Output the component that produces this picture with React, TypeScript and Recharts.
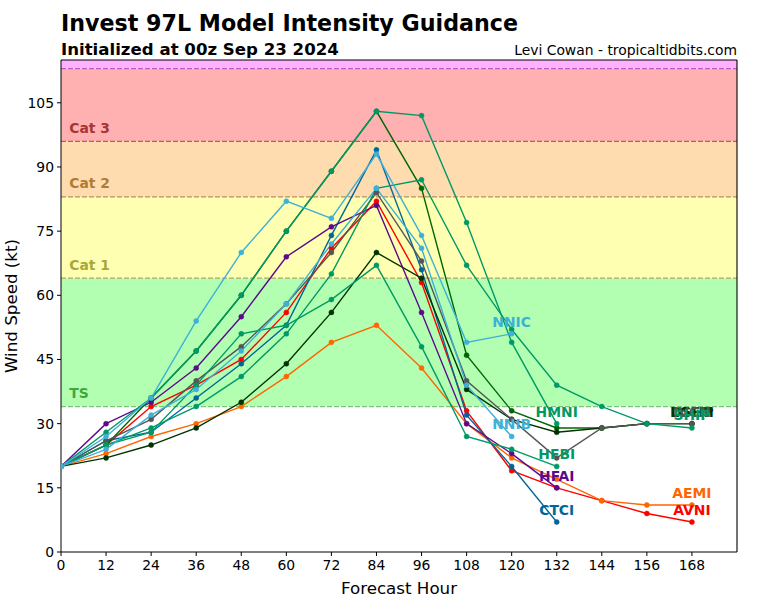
import React from "react";
import {
  ComposedChart,
  Line,
  XAxis,
  YAxis,
  ReferenceArea,
  ReferenceLine,
  ReferenceDot,
} from "recharts";

const FONT = "'DejaVu Sans', sans-serif";

const hourTicks = [0, 12, 24, 36, 48, 60, 72, 84, 96, 108, 120, 132, 144, 156, 168];
const windTicks = [0, 15, 30, 45, 60, 75, 90, 105];

// intensity per 12 h step, starting at hour 0
const avni = [20, 25, 34, 39, 45, 56, 71, 82, 63, 33, 19, 15, 12, 9, 7];
const aemi = [20, 23, 27, 30, 34, 41, 49, 53, 43, 30, 22, 17, 12, 11, 11];
const ctci = [20, 26, 28, 36, 44, 53, 74, 94, 66, 32, 20, 7];
const hfai = [20, 30, 35, 43, 55, 69, 76, 81, 56, 30, 23, 15];
const dshp = [20, 25, 36, 47, 60, 75, 89, 103, 85, 46, 33, 29, 29, 30, 30];
const lgem = [20, 22, 25, 29, 35, 44, 56, 70, 64, 38, 31, 28, 29, 30, 30];
const ivcn = [20, 26, 31, 40, 48, 58, 70, 84, 68, 40, 31, 22, 29, 30, 30];
const ship = [20, 25, 29, 34, 41, 51, 65, 85, 87, 67, 52, 39, 34, 30, 29];
const hfbi = [20, 25, 28, 39, 51, 53, 59, 67, 48, 27, 24, 20];
const nnib = [20, 24, 32, 38, 47, 58, 72, 85, 71, 39, 27];
const nnic = [20, 27, 36, 54, 70, 82, 78, 93, 74, 49, 51];
const hmni = [20, 28, 36, 47, 60, 75, 89, 103, 102, 77, 49, 30];

const series: [string, number[], string][] = [
  ["AVNI", avni, "#ff0000"],
  ["AEMI", aemi, "#ff6600"],
  ["CTCI", ctci, "#006699"],
  ["HFAI", hfai, "#5b0a8c"],
  ["DSHP", dshp, "#006600"],
  ["LGEM", lgem, "#003300"],
  ["IVCN", ivcn, "#555555"],
  ["SHIP", ship, "#009966"],
  ["HFBI", hfbi, "#009966"],
  ["HMNI", hmni, "#009966"],
  ["NNIB", nnib, "#3fb0d8"],
  ["NNIC", nnic, "#3fb0d8"],
];

// category bands: low, high, fill
const bands: [number, number, string][] = [
  [34, 64, "#b2ffb2"],
  [64, 83, "#ffffb2"],
  [83, 96, "#ffdcb0"],
  [96, 113, "#ffb0b0"],
  [113, 115, "#ffb0ff"],
];

const thresholds: [number, string][] = [
  [34, "#7cc47c"],
  [64, "#a8a860"],
  [83, "#b89060"],
  [96, "#b86060"],
  [113, "#b860c8"],
];

const catLabels: [string, number, string][] = [
  ["TS", 34, "#3fa83f"],
  ["Cat 1", 64, "#a8a83a"],
  ["Cat 2", 83, "#b07c34"],
  ["Cat 3", 96, "#a83434"],
];

const toPoints = (values: number[]) => values.map((wind, i) => ({ hour: i * 12, wind }));

const boldText = (value: string, fill: string, dx: number, dy: number, anchor: string) => (props: any) => (
  <text
    x={props.cx + dx}
    y={props.cy + dy}
    fill={fill}
    textAnchor={anchor as any}
    fontFamily={FONT}
    fontWeight="bold"
    fontSize={13.9}
  >
    {value}
  </text>
);

export default function App() {
  return (
    <div style={{ position: "absolute", left: 0, top: 0, width: 768, height: 600, background: "#fff", fontFamily: FONT }}>
      <div style={{ position: "absolute", left: 61, top: 10, fontSize: 22.2, fontWeight: "bold", whiteSpace: "nowrap" }}>
        Invest 97L Model Intensity Guidance
      </div>
      <div style={{ position: "absolute", left: 61, top: 40, fontSize: 16.6, fontWeight: "bold", whiteSpace: "nowrap" }}>
        Initialized at 00z Sep 23 2024
      </div>
      <div style={{ position: "absolute", right: 31, top: 42, fontSize: 13.9, whiteSpace: "nowrap" }}>
        Levi Cowan - tropicaltidbits.com
      </div>
      <ComposedChart
        width={768}
        height={600}
        margin={{ top: 60, right: 31, bottom: 0, left: 0 }}
        style={{ position: "absolute", left: 0, top: 0 }}
      >
        <XAxis
          type="number"
          dataKey="hour"
          domain={[0, 180]}
          ticks={hourTicks}
          interval={0}
          height={48}
          tickSize={4}
          tickMargin={4}
          allowDataOverflow
          stroke="#000"
          tick={{ fill: "#000", fontSize: 13.9, fontFamily: FONT }}
          label={{ value: "Forecast Hour", position: "insideBottom", offset: 6, fontSize: 16.7, fill: "#000", fontFamily: FONT }}
        />
        <YAxis
          type="number"
          domain={[0, 115]}
          ticks={windTicks}
          interval={0}
          width={61}
          tickSize={4}
          tickMargin={3}
          allowDataOverflow
          stroke="#000"
          tick={{ fill: "#000", fontSize: 13.9, fontFamily: FONT }}
          label={{ value: "Wind Speed (kt)", angle: -90, position: "insideLeft", offset: 11, fontSize: 16.7, fill: "#000", fontFamily: FONT, style: { textAnchor: "middle" } }}
        />
        {bands.map(([low, high, fill]) => (
          <ReferenceArea key={low} y1={low} y2={high} fill={fill} fillOpacity={1} stroke="none" />
        ))}
        {thresholds.map(([value, color]) => (
          <ReferenceLine key={value} y={value} stroke={color} strokeDasharray="5 2" strokeWidth={1.3} />
        ))}
        <ReferenceLine y={115} stroke="#000" strokeWidth={1.1} />
        <ReferenceLine x={180} stroke="#000" strokeWidth={1.1} />
        {catLabels.map(([name, value, color]) => (
          <ReferenceDot key={name} x={2.2} y={value + 2} r={0} shape={boldText(name, color, 0, 0, "start")} />
        ))}
        {series.map(([name, values, color]) => (
          <Line
            key={name}
            data={toPoints(values)}
            dataKey="wind"
            name={name}
            stroke={color}
            strokeWidth={1.4}
            dot={{ r: 2.5, fill: color, stroke: color, strokeWidth: 0.5 }}
            isAnimationActive={false}
          />
        ))}
        {series.map(([name, values, color]) => (
          <ReferenceDot
            key={name}
            x={(values.length - 1) * 12}
            y={values[values.length - 1]}
            r={0}
            shape={boldText(name, color, 0, name === "SHIP" ? -8 : -7, "middle")}
          />
        ))}
      </ComposedChart>
    </div>
  );
}
